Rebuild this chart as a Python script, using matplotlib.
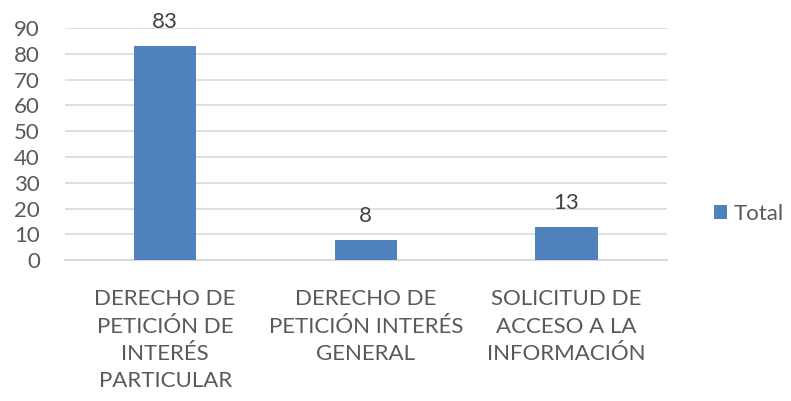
import numpy as np
import matplotlib.pyplot as plt

categories = ['DERECHO DE\nPETICIÓN DE\nINTERÉS\nPARTICULAR',
              'DERECHO DE\nPETICIÓN INTERÉS\nGENERAL',
              'SOLICITUD DE\nACCESO A LA\nINFORMACIÓN']
totals = [83, 8, 13]
yticks = list(range(0, 100, 10))

plt.rcParams['font.family'] = ['Lato', 'DejaVu Sans']
text_col = '#595959'

fig = plt.figure(figsize=(7.91, 4.01), dpi=100)
ax = fig.add_axes([0.082, 0.351, 0.761, 0.579])

x = np.arange(len(categories))
bars = ax.bar(x, totals, width=0.31, color='#4F81BD', label='Total', zorder=3)
for b, v in zip(bars, totals):
    ax.annotate(str(v), (b.get_x() + b.get_width() / 2, v), xytext=(0, 10),
                textcoords='offset points', ha='center', va='bottom',
                fontsize=16, color='#404040')

ax.set_xlim(-0.5, 2.5)
ax.set_ylim(0, 90)
ax.set_yticks(yticks)
ax.set_xticks(x)
ax.set_xticklabels(categories, fontsize=16, color=text_col, linespacing=1.45)
ax.tick_params(axis='y', labelsize=16, labelcolor=text_col, length=0, pad=18)
ax.tick_params(axis='x', length=0, pad=21)
ax.grid(axis='y', color='#D9D9D9', linewidth=1.2, zorder=0)
for s in ['top', 'right', 'left']:
    ax.spines[s].set_visible(False)
ax.spines['bottom'].set_color('#D9D9D9')
ax.spines['bottom'].set_linewidth(1.5)

ax.legend(loc='center left', bbox_to_anchor=(1.045, 0.2), frameon=False, fontsize=16,
          handlelength=0.6, handleheight=0.6, handletextpad=0.3, labelcolor=text_col)

fig.savefig('out.png', dpi=100)
